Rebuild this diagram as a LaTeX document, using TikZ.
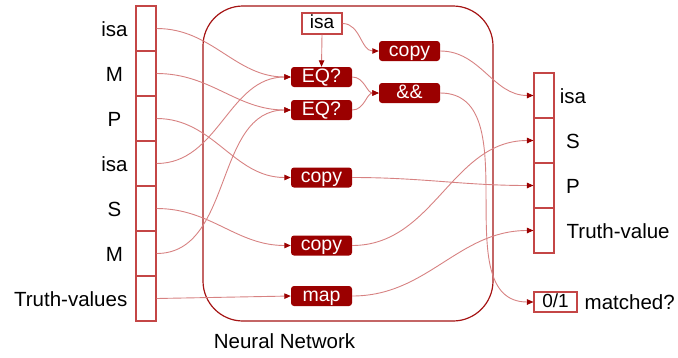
\documentclass[tikz,border=0pt]{standalone}
\usepackage{fontspec}
\setmainfont{Liberation Sans}
\usetikzlibrary{arrows.meta}
\definecolor{dred}{RGB}{155,0,0}
\definecolor{cellred}{RGB}{196,70,70}
\definecolor{linkred}{RGB}{215,130,130}
\definecolor{boxred}{RGB}{165,20,20}
\tikzset{
  cell/.style={draw=cellred, line width=1.1pt, minimum width=20pt, minimum height=45pt, inner sep=0pt},
  lbl/.style={font=\fontsize{20.5}{20.5}\selectfont, text height=15pt, text depth=0pt, inner sep=0pt},
  opbox/.style={fill=dred, rounded corners=3pt, minimum width=61pt, minimum height=20pt, inner sep=0pt,
    text=white, font=\fontsize{19.5}{19.5}\selectfont, text height=14pt, text depth=4pt},
  valbox/.style={draw=cellred, fill=white, line width=1.1pt, inner sep=0pt, font=\fontsize{19}{19}\selectfont,
    text height=13.5pt, text depth=3pt},
  link/.style={draw=linkred, line width=0.9pt, -{Triangle[length=6.5pt,width=5.5pt,color=dred]}},
  sw/.style={out=0, in=180}
}
\begin{document}
\begin{tikzpicture}[x=1pt, y=-1pt]
\useasboundingbox (0,0) rectangle (678,357);
% neural network frame
\node[draw=boxred, line width=1.2pt, rounded corners=40pt, minimum width=290pt, minimum height=315pt, inner sep=0pt] (nn) at (348,163.5) {};
\node[lbl] (nnlbl) at (284.5,340.5) {Neural Network};
% left column
\node[cell] (L1) at (146,28.5) {};
\node[cell] (L2) at (146,73.5) {};
\node[cell] (L3) at (146,118.5) {};
\node[cell] (L4) at (146,163.5) {};
\node[cell] (L5) at (146,208.5) {};
\node[cell] (L6) at (146,253.5) {};
\node[cell] (L7) at (146,298.5) {};
\node[lbl] (l1) at (114.5,28.5) {isa};
\node[lbl] (l2) at (114.5,73.5) {M};
\node[lbl] (l3) at (114.5,118.5) {P};
\node[lbl] (l4) at (114.5,163.5) {isa};
\node[lbl] (l5) at (114.5,208.5) {S};
\node[lbl] (l6) at (114.5,253.5) {M};
\node[lbl, anchor=east] (l7) at (127.5,298.5) {Truth-values};
% right column
\node[cell] (R1) at (544,95.5) {};
\node[cell] (R2) at (544,140.5) {};
\node[cell] (R3) at (544,185.5) {};
\node[cell] (R4) at (544,230.5) {};
\node[lbl] (r1) at (573,95.5) {isa};
\node[lbl] (r2) at (573,140.5) {S};
\node[lbl] (r3) at (573,185.5) {P};
\node[lbl, anchor=west] (r4) at (566.5,230.5) {Truth-value};
% operation boxes
\node[valbox, minimum width=40pt, minimum height=21pt] (isatop) at (322,23.5) {isa};
\node[opbox] (eq1) at (321.5,77) {EQ?};
\node[opbox] (eq2) at (321.5,110) {EQ?};
\node[opbox] (copyA) at (409.5,51) {copy};
\node[opbox] (and) at (409.5,93) {\&\&};
\node[opbox] (copyB) at (321.5,177.5) {copy};
\node[opbox] (copyC) at (321.5,245.5) {copy};
\node[opbox] (map) at (321.5,296) {map};
\node[valbox, minimum width=43pt, minimum height=20pt] (zo) at (555.5,302) {0/1};
\node[lbl, anchor=west] (matched) at (584.5,302) {matched?};
% connectors
\draw[link] (L1.east) to[sw] (eq1.west);
\draw[link] (L2.east) to[sw] (eq2.west);
\draw[link] (L3.east) to[sw] (copyB.west);
\draw[link] (L4.east) to[sw] (eq1.west);
\draw[link] (L5.east) to[sw] (copyC.west);
\draw[link] (L6.east) to[sw] (eq2.west);
\draw[link] (L7.east) -- (map.west);
\draw[link] (isatop.south) -- (eq1.north);
\draw[link] (isatop.east) to[sw] (copyA.west);
\draw[link] (eq1.east) to[sw] (and.west);
\draw[link] (eq2.east) to[sw] (and.west);
\draw[link] (copyA.east) to[sw] (R1.west);
\draw[link] (and.east) to[sw] (zo.west);
\draw[link] (copyB.east) to[sw] (R3.west);
\draw[link] (copyC.east) to[sw] (R2.west);
\draw[link] (map.east) to[sw] (R4.west);
\end{tikzpicture}
\end{document}
